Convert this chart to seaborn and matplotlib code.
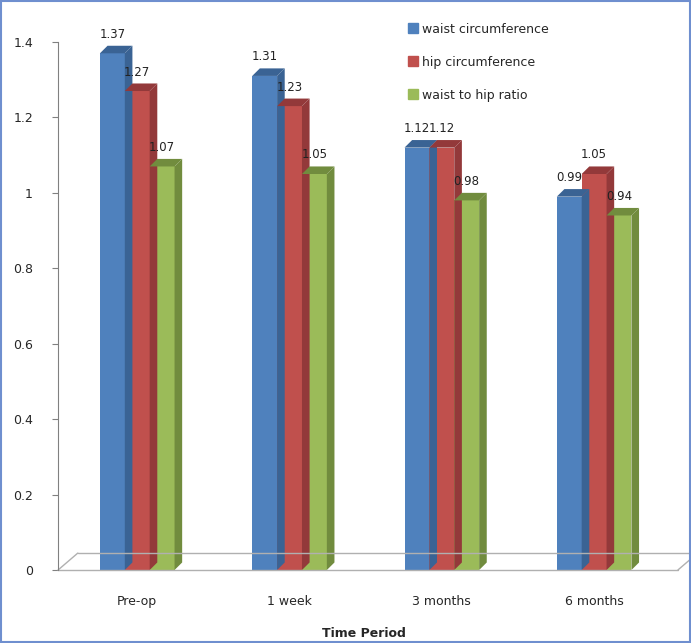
import pandas as pd
import matplotlib.pyplot as plt
import seaborn as sns
from matplotlib.patches import Polygon, Rectangle
from matplotlib.lines import Line2D

sns.set_style("white")
plt.rcParams['font.family'] = ['DejaVu Sans']

# Dados
periods = ['Pre-op', '1 week', '3 months', '6 months']
waist = [1.37, 1.31, 1.12, 0.99]
hip = [1.27, 1.23, 1.12, 1.05]
ratio = [1.07, 1.05, 0.98, 0.94]
series = ['waist circumference', 'hip circumference', 'waist to hip ratio']
colors = ['#4F81BD', '#C0504D', '#9BBB59']
dark = ['#3A6394', '#93393A', '#718C3E']
y_ticks = [0, 0.2, 0.4, 0.6, 0.8, 1, 1.2, 1.4]

df = pd.DataFrame({'period': periods * 3,
                   'measure': [s for s in series for _ in periods],
                   'value': waist + hip + ratio})

fig = plt.figure(figsize=(6.91, 6.43), dpi=100)
ax = fig.add_axes([0.084, 0.1135, 0.886, 0.8212])

sns.barplot(data=df, x='period', y='value', hue='measure', palette=colors,
            width=0.49, saturation=1, linewidth=0, ax=ax, legend=False)

# efeito 3D simples
dx, dy = 0.05, 0.02
for cont, dc in zip(ax.containers, dark):
    for bar in cont:
        x0, w, h = bar.get_x(), bar.get_width(), bar.get_height()
        side = Polygon([(x0 + w, 0), (x0 + w + dx, dy), (x0 + w + dx, h + dy), (x0 + w, h)],
                       closed=True, facecolor=dc, edgecolor='none', zorder=bar.get_zorder())
        top = Polygon([(x0, h), (x0 + dx, h + dy), (x0 + w + dx, h + dy), (x0 + w, h)],
                      closed=True, facecolor=dc, edgecolor='none', zorder=bar.get_zorder())
        ax.add_patch(side)
        ax.add_patch(top)
    ax.bar_label(cont, labels=[f'{b.get_height():g}' for b in cont], padding=9,
                 fontsize=8.5, color='#222222')

# piso
ax.plot([-0.52, 3.55], [0, 0], color='#b0b0b0', lw=1, clip_on=False)
ax.plot([-0.39, 3.68], [0.045, 0.045], color='#b0b0b0', lw=1, clip_on=False)
ax.plot([-0.52, -0.39], [0, 0.045], color='#b0b0b0', lw=1, clip_on=False)
ax.plot([3.55, 3.68], [0, 0.045], color='#b0b0b0', lw=1, clip_on=False)

ax.set_xlim(-0.52, 3.5)
ax.set_ylim(0, 1.4)
ax.set_yticks(y_ticks)
ax.set_yticklabels([f'{t:g}' for t in y_ticks], fontsize=9)
ax.tick_params(axis='y', length=4, color='#808080', direction='out', pad=14, left=True)
ax.tick_params(axis='x', length=0, pad=18, labelsize=9)
ax.set_xlabel('Time Period', fontsize=9, fontweight='bold', labelpad=14)
ax.set_ylabel('')
for s in ['top', 'right', 'bottom']:
    ax.spines[s].set_visible(False)
ax.spines['left'].set_color('#808080')

handles = [Line2D([], [], marker='s', linestyle='none', markersize=7, color=c) for c in colors]
ax.legend(handles, series, loc='upper right', bbox_to_anchor=(0.82, 1.058), frameon=False,
          fontsize=9, labelspacing=1.6, handletextpad=0.3, handlelength=0.8)

fig.patches.append(Rectangle((0.002, 0.002), 0.996, 0.996, transform=fig.transFigure,
                             fill=False, edgecolor='#6f8fcf', lw=1.5))

plt.savefig('out.png', dpi=100)
